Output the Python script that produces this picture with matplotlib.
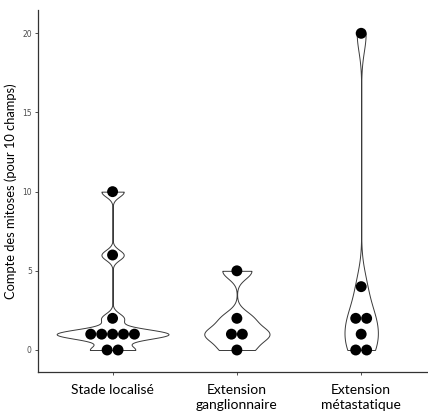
import matplotlib
matplotlib.use("Agg")
import matplotlib.pyplot as plt
import numpy as np

# counts per group
groups = ["Stade localisé", "Extension\nganglionnaire", "Extension\nmétastatique"]
stade_localise = [0, 0, 1, 1, 1, 1, 1, 2, 6, 10]
extension_gangl = [0, 1, 1, 2, 5]
extension_meta = [0, 0, 1, 2, 2, 4, 20]
values = [stade_localise, extension_gangl, extension_meta]

yticks = [0, 5, 10, 15, 20]
ylabel = "Compte des mitoses (pour 10 champs)"


def bw_nrd0(x):
    x = np.asarray(x, dtype=float)
    q1, q3 = np.percentile(x, [25, 75])
    lo = min(np.std(x, ddof=1), (q3 - q1) / 1.34)
    return 0.9 * lo * len(x) ** -0.2


def kde(x, grid):
    x = np.asarray(x, dtype=float)
    h = bw_nrd0(x)
    d = (grid[:, None] - x[None, :]) / h
    return np.exp(-0.5 * d ** 2).sum(axis=1) / (len(x) * h * np.sqrt(2 * np.pi))


# densities over the data range of each group (trimmed violins)
grids = [np.linspace(min(v), max(v), 512) for v in values]
dens = [kde(v, g) for v, g in zip(values, grids)]
dmax = max(d.max() for d in dens)

fig = plt.figure(figsize=(4.28, 4.12), dpi=100)
ax = fig.add_axes([38 / 428, 40 / 412, 390 / 428, 362 / 412])

ppu = 15.83  # pixels per y unit
dot_d = 0.69  # dot diameter in y units
xppu = 124.3  # pixels per x unit

for i, (v, g, d) in enumerate(zip(values, grids, dens)):
    xc = i + 1
    w = 0.45 * d / dmax
    ax.fill_betweenx(g, xc - w, xc + w, facecolor="white", edgecolor="#3a3a3a",
                     linewidth=0.7, zorder=2)
    # centered dot stacks
    uniq, counts = np.unique(v, return_counts=True)
    step = dot_d * ppu / xppu
    for val, n in zip(uniq, counts):
        offs = (np.arange(n) - (n - 1) / 2) * step
        ax.scatter(xc + offs, np.full(n, val), s=(dot_d * ppu * 0.72) ** 2,
                   color="black", edgecolors="none", zorder=3)

ax.set_xlim(0.4, 0.4 + 390 / xppu)
ax.set_ylim(-(372 - 350) / ppu, 20 + (33.3 - 10) / ppu)
ax.set_xticks([1, 2, 3])
ax.set_xticklabels(groups, fontfamily="Lato", fontsize=10, color="black",
                   linespacing=1.3)
ax.set_yticks(yticks)
ax.set_yticklabels([str(t) for t in yticks], fontsize=5.5, color="#4d4d4d")
ax.set_ylabel(ylabel, fontfamily="Lato", fontsize=9.3, color="black", labelpad=4)

for s in ["top", "right"]:
    ax.spines[s].set_visible(False)
for s in ["left", "bottom"]:
    ax.spines[s].set_color("#333333")
    ax.spines[s].set_linewidth(0.9)
ax.tick_params(axis="both", length=2.5, width=0.6, color="#333333")
ax.tick_params(axis="x", pad=6)
ax.tick_params(axis="y", pad=2)

fig.savefig("out.png", dpi=100)
